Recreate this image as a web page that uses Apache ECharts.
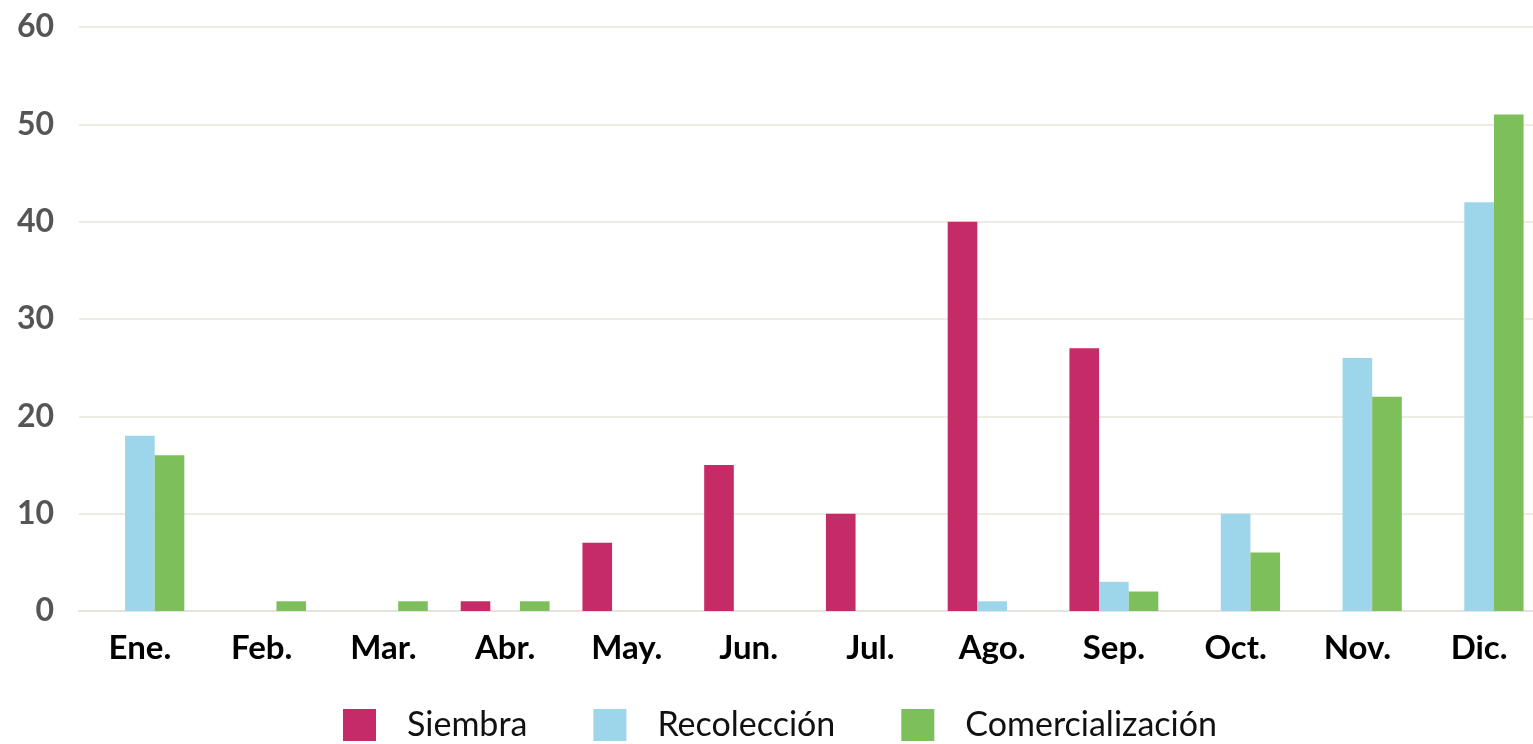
<!DOCTYPE html>
<html><head><meta charset="utf-8">
<script src="https://cdn.jsdelivr.net/npm/echarts@6/dist/echarts.min.js"></script>
<style>html,body{margin:0;padding:0;background:#fff;overflow:hidden}#c{width:1545px;height:744px}</style>
</head><body><div id="c"></div>
<script>
const categories = ['Ene.','Feb.','Mar.','Abr.','May.','Jun.','Jul.','Ago.','Sep.','Oct.','Nov.','Dic.'];
const siembra = [0,0,0,1,7,15,10,40,27,0,0,0];
const recoleccion = [18,0,0,0,0,0,0,1,3,10,26,42];
const comercializacion = [16,1,1,1,0,0,0,0,2,6,22,51];
const yTicks = [0,10,20,30,40,50,60];

const chart = echarts.init(document.getElementById('c'));
const bar = (name, data, color) => ({
  name, type:'bar', data, barGap:'0%', barCategoryGap:'27%',
  itemStyle:{color}, emphasis:{disabled:true}
});
chart.setOption({
  animation:false,
  textStyle:{fontFamily:'Lato'},
  grid:{left:79, top:27, bottom:133, width:1461},
  legend:{
    bottom:-3, left:338, itemWidth:33, itemHeight:32, itemGap:66,
    icon:'rect',
    textStyle:{fontSize:34, color:'#111', fontFamily:'Lato', padding:[0,0,0,26]},
    data:['Siembra','Recolección','Comercialización']
  },
  xAxis:{
    type:'category', data:categories,
    axisLine:{lineStyle:{color:'#e4e4de', width:2}},
    axisTick:{show:false},
    axisLabel:{fontSize:33, fontWeight:'bold', color:'#000', margin:21}
  },
  yAxis:{
    type:'value', min:yTicks[0], max:yTicks[yTicks.length-1], interval:10,
    axisLine:{show:false}, axisTick:{show:false},
    splitLine:{lineStyle:{color:'#ecece2', width:2}},
    axisLabel:{fontSize:32, fontWeight:'bold', color:'#555', margin:25}
  },
  series:[
    bar('Siembra', siembra, '#C42B67'),
    bar('Recolección', recoleccion, '#9DD6EA'),
    bar('Comercialización', comercializacion, '#7DBF5A')
  ]
});
</script></body></html>
